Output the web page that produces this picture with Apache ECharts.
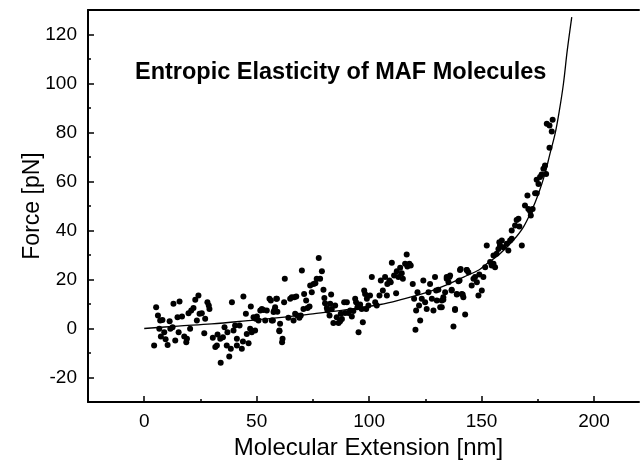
<!DOCTYPE html>
<html>
<head>
<meta charset="utf-8">
<script src="https://cdn.jsdelivr.net/npm/echarts@6/dist/echarts.min.js"></script>
<style>html,body{margin:0;padding:0;background:#fff}#c{width:640px;height:467px}</style>
</head>
<body>
<div id="c"></div>
<script>
// Measured data points: extension (nm) and force (pN)
const extensionNm = [
5.3,4.4,6.1,7.1,6.7,8.1,7.4,8.9,10.4,9.5,11.3,11.6,13.0,12.6,13.8,14.8,15.7,15.3,16.8,17.8,18.7,19.0,20.4,19.7,20.9,21.9,22.7,24.1,23.4,24.6,25.6,27.1,26.7,28.1,29.0,28.7,30.5,31.6,32.3,32.6,33.8,35.0,35.7,36.7,37.0,37.8,38.5,39.0,39.7,40.4,41.2,41.2,42.4,43.4,43.9,44.1,45.2,45.6,46.4,47.1,47.8,47.4,48.6,49.3,49.6,50.1,50.8,51.6,52.3,53.0,53.8,54.5,55.7,56.3,57.2,57.8,58.2,59.0,59.2,60.1,34.0,61.3,
58.7,57.5,56.7,58.2,60.4,60.1,61.5,62.2,62.5,64.1,64.9,65.6,66.4,66.7,67.6,67.1,68.1,69.0,69.6,70.1,71.1,70.8,72.0,72.6,73.5,73.8,74.5,75.3,76.1,76.7,77.6,78.2,79.0,79.7,80.1,80.4,81.2,81.5,82.4,83.1,82.7,83.4,84.1,84.9,85.6,86.4,87.1,87.4,87.9,88.9,89.3,90.1,90.8,91.6,92.3,93.0,93.8,94.2,94.8,95.3,96.0,96.7,97.2,97.8,98.2,98.7,99.0,99.7,100.4,101.2,102.7,103.4,104.6,105.2,106.1,107.1,107.9,108.1,109.0,109.6,110.1,111.1,112.0,112.3,113.0,113.8,114.5,115.0,116.0,116.7,117.0,117.9,118.5,119.4,120.0,120.6,120.9,121.5,122.2,122.7,123.4,124.1,124.9,125.6,126.4,127.1,127.9,128.6,129.3,129.8,130.1,130.8,131.6,132.3,133.0,133.8,134.5,135.3,136.0,136.7,137.5,138.2,139.0,139.7,140.4,141.2,141.9,142.7,143.4,144.1,
133.0,132.3,134.5,135.7,136.7,138.2,139.0,140.2,140.7,141.6,143.4,145.6,146.4,147.1,147.9,148.6,149.0,150.1,150.8,151.6,152.3,153.8,154.5,155.3,156.0,155.3,156.7,157.5,157.9,159.0,158.2,159.7,161.2,161.9,162.7,163.4,163.4,164.9,165.6,166.8,166.4,167.9,169.3,170.4,170.8,171.6,171.9,172.7,173.8,174.5,175.3,174.5,176.0,176.7,177.5,178.2,178.7,
179.0,180.2,181.6,181.2,180.2
];
const forcePn = [
8.7,-6.9,5.3,3.3,-0.1,3.5,-3.3,-1.5,-6.7,-4.4,3.0,-0.1,10.1,0.5,-4.9,4.6,11.0,-1.5,4.9,-3.3,-5.6,-4.2,-0.1,6.2,7.3,8.4,11.7,13.5,3.3,6.0,6.2,4.0,-1.9,10.7,8.0,9.4,-3.8,-7.6,-6.9,-2.4,-4.2,-3.6,0.5,-6.9,-1.5,-11.4,-8.3,10.7,-0.8,1.2,-4.2,-6.9,1.2,-8.3,-5.3,13.1,6.0,-2.2,-6.0,-0.1,-1.5,9.0,4.6,-0.8,4.0,4.9,3.3,7.3,8.0,7.6,3.3,7.3,12.1,11.4,3.3,7.3,8.7,12.1,6.8,-1.1,-14.0,-5.6,
12.1,6.7,3.3,7.3,1.9,-0.8,-4.2,10.7,20.3,4.4,12.1,12.8,3.3,12.8,13.1,6.0,5.3,4.4,5.3,23.7,14.1,8.0,11.4,8.4,9.0,17.6,14.8,18.2,18.5,20.3,28.8,20.3,23.4,15.8,12.4,10.3,8.4,7.3,5.3,13.9,10.1,8.0,2.2,9.4,4.6,2.2,3.0,6.0,3.9,10.7,6.3,10.7,6.3,7.3,4.9,7.1,12.1,10.7,8.7,-1.5,9.8,8.0,2.6,15.5,14.1,8.0,12.1,9.4,13.5,21.0,10.7,9.4,13.5,19.6,15.5,21.0,13.5,18.2,19.6,18.9,26.8,21.6,14.4,23.4,21.0,24.8,22.6,20.3,26.4,30.2,25.3,26.4,25.7,18.2,12.1,-0.5,7.3,14.8,9.4,3.3,12.1,19.6,10.7,8.0,14.8,18.2,12.1,7.3,21.0,15.5,11.4,15.8,8.7,11.4,11.7,14.8,21.0,18.9,21.6,15.8,0.8,7.6,14.1,19.3,23.9,14.1,12.8,5.7,23.9,23.0,
12.8,8.7,20.3,21.0,15.5,8.0,13.9,19.6,24.3,13.9,23.9,17.6,20.3,21.0,18.9,13.5,22.0,15.5,21.0,25.0,33.9,27.1,25.7,26.4,25.0,29.8,30.5,32.5,35.2,35.9,33.9,33.2,34.6,31.8,35.9,36.6,40.0,42.0,44.3,41.6,44.8,33.9,50.2,54.3,48.8,47.9,46.1,48.8,55.2,55.2,59.0,60.7,61.8,62.9,65.2,66.5,63.1,
83.6,82.9,85.2,80.4,73.8
];
// Fitted curve
const fitExtension = [0,15,30,45,60,75,90,105,115,125,135,142,149,152.3,158.2,164.1,168.6,172.3,175.3,178.2,180.4,182.7,184.6,186.4,188.1,190.1];
const fitForce = [0,1,1.9,3.1,4.4,6,7.7,9.8,12,14.5,18,21,24,26.4,30.5,36,41.4,48.2,55,63.2,71.3,79.5,89,99.9,113.5,127.1];
const xMajorTicks = [0,50,100,150,200];
const xMinorTicks = [25,75,125,175];
const yMajorTicks = [-20,0,20,40,60,80,100,120];
const yMinorTicks = [-10,10,30,50,70,90,110];
const titleText = 'Entropic Elasticity of MAF Molecules';
const xTitle = 'Molecular Extension [nm]';
const yTitle = 'Force [pN]';

const FONT = 'Liberation Sans, Arial, sans-serif';
const scatterData = extensionNm.map((x, i) => [x, forcePn[i]]);
const fitData = fitExtension.map((x, i) => [x, fitForce[i]]);

const chart = echarts.init(document.getElementById('c'), null, {renderer: 'canvas'});
const axisBase = {type: 'value', splitLine: {show: false}};
chart.setOption({
  animation: false,
  backgroundColor: '#fff',
  title: {
    text: titleText, left: 130, top: 56,
    textStyle: {fontFamily: FONT, fontSize: 23.5, fontWeight: 'bold', color: '#000'}
  },
  grid: {left: 88, top: 10, right: 1, bottom: 65, containLabel: false},
  xAxis: [
    Object.assign({}, axisBase, {
      min: -25, max: 220, position: 'bottom',
      axisLine: {show: true, onZero: false, lineStyle: {color: '#000', width: 2}},
      axisTick: {show: true, inside: true, length: 6, lineStyle: {color: '#000', width: 1.5}, customValues: xMajorTicks},
      axisLabel: {show: true, customValues: xMajorTicks, fontFamily: FONT, fontSize: 19, color: '#000', margin: 10},
      name: xTitle, nameLocation: 'middle', nameGap: 30,
      nameTextStyle: {fontFamily: FONT, fontSize: 24, color: '#000', padding: [0, 0, 0, 10]}
    }),
    Object.assign({}, axisBase, {
      min: -25, max: 220, position: 'bottom',
      axisLine: {show: false, onZero: false},
      axisTick: {show: true, inside: true, length: 3, lineStyle: {color: '#000', width: 1.5}, customValues: xMinorTicks},
      axisLabel: {show: false}
    }),
    Object.assign({}, axisBase, {
      min: -25, max: 220, position: 'top',
      axisLine: {show: true, onZero: false, lineStyle: {color: '#000', width: 2}},
      axisTick: {show: false}, axisLabel: {show: false}
    })
  ],
  yAxis: [
    Object.assign({}, axisBase, {
      min: -30, max: 130, position: 'left',
      axisLine: {show: true, onZero: false, lineStyle: {color: '#000', width: 2}},
      axisTick: {show: true, inside: true, length: 6, lineStyle: {color: '#000', width: 1.5}, customValues: yMajorTicks},
      axisLabel: {show: true, customValues: yMajorTicks, fontFamily: FONT, fontSize: 19, color: '#000', margin: 11},
      name: yTitle, nameLocation: 'middle', nameGap: 44, nameRotate: 90, nameMoveOverlap: false,
      nameTextStyle: {fontFamily: FONT, fontSize: 23, color: '#000'}
    }),
    Object.assign({}, axisBase, {
      min: -30, max: 130, position: 'left',
      axisLine: {show: false, onZero: false},
      axisTick: {show: true, inside: true, length: 3, lineStyle: {color: '#000', width: 1.5}, customValues: yMinorTicks},
      axisLabel: {show: false}
    })
  ],
  series: [
    {
      type: 'scatter', xAxisIndex: 0, yAxisIndex: 0,
      data: scatterData, symbol: 'circle', symbolSize: 6,
      itemStyle: {color: '#000', opacity: 1}, silent: true
    },
    {
      type: 'line', xAxisIndex: 0, yAxisIndex: 0,
      data: fitData, showSymbol: false, smooth: 0.35,
      lineStyle: {color: '#000', width: 1.3}, silent: true, z: 3
    }
  ]
});
</script>
</body>
</html>
